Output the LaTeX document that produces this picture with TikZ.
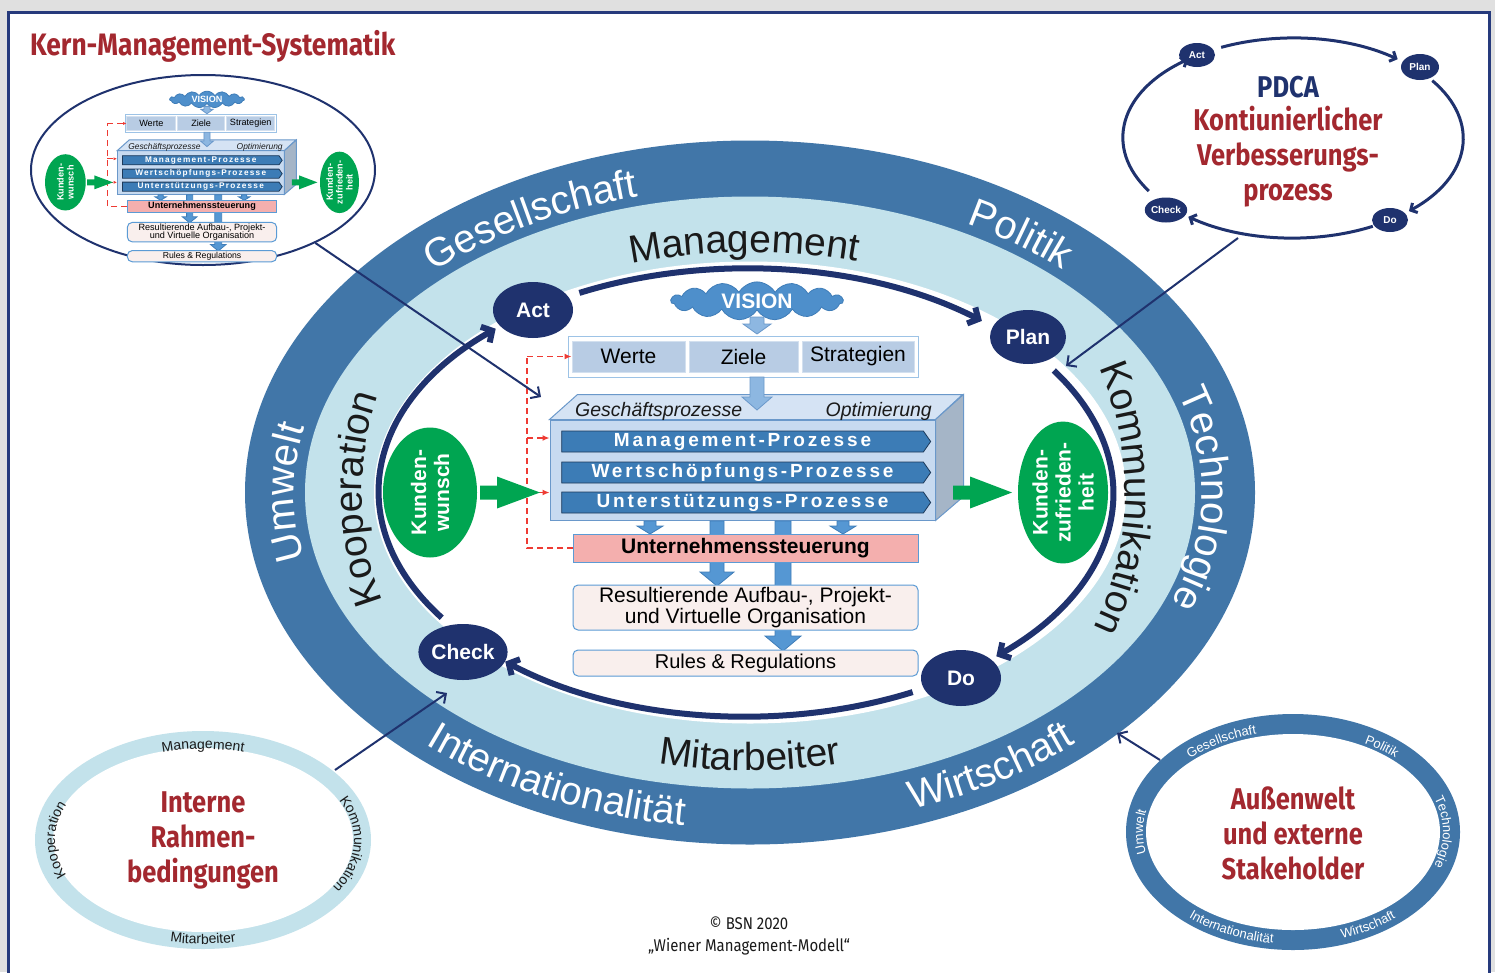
\documentclass[tikz,border=0pt]{standalone}
\usepackage{fontspec}
\setmainfont{Liberation Sans}
\newfontfamily\titlefont[FakeStretch=0.85]{Fira Sans}
\newfontfamily\capfont[FakeStretch=0.88]{Fira Sans}
\usetikzlibrary{shapes.geometric,shapes.symbols,decorations.text,arrows.meta}

\definecolor{navy}{HTML}{1F326E}
\definecolor{framenavy}{HTML}{263A7C}
\definecolor{ringdark}{HTML}{4176A8}
\definecolor{ringlight}{HTML}{C3E2EB}
\definecolor{redtxt}{HTML}{A3282F}
\definecolor{kgreen}{HTML}{00A551}
\definecolor{chev}{HTML}{3C7CB6}
\definecolor{chevline}{HTML}{1D3A5A}
\definecolor{pfront}{HTML}{C7DAF0}
\definecolor{ptop}{HTML}{D5E3F4}
\definecolor{pside}{HTML}{A5B5C7}
\definecolor{pline}{HTML}{6A98CA}
\definecolor{cell}{HTML}{B8CCE4}
\definecolor{cellline}{HTML}{D3E0EF}
\definecolor{pinkbox}{HTML}{F4AFAE}
\definecolor{lightpink}{HTML}{F9EFED}
\definecolor{barrow}{HTML}{5597D3}
\definecolor{barrowline}{HTML}{3F7DB8}
\definecolor{larrow}{HTML}{8DB7E1}
\definecolor{bline}{HTML}{5B9BD5}
\definecolor{reddash}{HTML}{EE3B33}
\definecolor{visionblue}{HTML}{4E8FCB}
\definecolor{visionline}{HTML}{3F7DB8}
\definecolor{darktext}{HTML}{1A1A1A}

\newcommand\fsz[2]{\fontsize{#1pt}{#2pt}\selectfont}
\newcommand\Sc{1}

% vertical block arrow: x, ytop, ybottom(tip), half shaft, half head, head length, style
\newcommand\varrow[7]{\draw[#7] ({#1-#4},#2) -- ({#1+#4},#2) -- ({#1+#4},{#3+#6}) -- ({#1+#5},{#3+#6}) -- (#1,#3) -- ({#1-#5},{#3+#6}) -- ({#1-#4},{#3+#6}) -- cycle;}
% horizontal block arrow: xleft, xright(tip), y, half shaft, half head, head length, style
\newcommand\harrow[7]{\draw[#7] (#1,{#3+#4}) -- ({#2-#6},{#3+#4}) -- ({#2-#6},{#3+#5}) -- (#2,#3) -- ({#2-#6},{#3-#5}) -- ({#2-#6},{#3-#4}) -- (#1,{#3-#4}) -- cycle;}
% text on an elliptical arc: centre, rx, ry, mid angle, signed half span, format, text
\newcommand\ringword[7]{\path[decorate,decoration={text along path,text align=center,text={|#6|#7}}] ([shift={({#4+#5}:#2pt and #3pt)}]#1) arc[start angle={#4+#5},end angle={#4-#5},x radius=#2pt,y radius=#3pt];}

\tikzset{
  lightarr/.style={fill=larrow, draw=pline, line width=0.8pt},
  bluearr/.style={fill=barrow, draw=barrowline, line width=0.8pt},
  greenarr/.style={fill=kgreen, draw=none},
  cellbox/.style={fill=cell, draw=cellline, line width=1pt, minimum height=31pt, inner sep=0pt, font=\fsz{21}{21}},
  chevron/.style={signal, signal to=east, signal pointer angle=110, fill=chev, draw=chevline, line width=0.8pt, minimum width=369pt, minimum height=21pt, inner sep=0pt, text=white, font=\fsz{19}{19}\bfseries\addfontfeatures{LetterSpace=15}},
  orgbox/.style={fill=lightpink, draw=bline, line width=1pt, rounded corners=5pt, minimum width=345pt, inner sep=0pt, align=center},
  feedback/.style={draw=reddash, line width=1.3pt, dash pattern=on 6pt off 4pt},
  fbarrow/.style={feedback, -{Latex[length=7pt,width=6pt,scale=\Sc]}},
  greenell/.style={ellipse, fill=kgreen, inner sep=0pt, text=white, align=center, rotate=90, font=\fsz{21}{23}\bfseries},
  pdcanode/.style={ellipse, fill=navy, inner sep=0pt, text=white, font=\fsz{21}{21}\bfseries},
  pdcaarc/.style={draw=navy, line width=6pt, -{Straight Barb[length=8pt,width=18pt]}},
  minipdcanode/.style={ellipse, fill=navy, inner sep=0pt, text=white, font=\fsz{10}{10}\bfseries},
  minipdcaarc/.style={draw=navy, line width=3pt, -{Straight Barb[length=5pt,width=11pt]}},
  link/.style={draw=navy, line width=2pt, -{Straight Barb[length=7pt,width=14pt]}},
  redtitle/.style={text=redtxt, font=\titlefont\bfseries\fsz{30}{35}, align=center, inner sep=0pt},
}

\newcommand\centerblock{%
  % VISION and values box
  \node[cloud, cloud puffs=15, cloud puff arc=120, aspect=7, fill=visionblue, draw=visionline, line width=0.8pt,
        minimum width=172pt, minimum height=28pt, inner sep=0pt, text=white, font=\fsz{21}{21}\bfseries] (vision) at (757,-301) {VISION};
  \varrow{757}{-317}{-334}{7}{14}{10}{lightarr}
  \node[draw=bline!60, fill=white, line width=1pt, minimum width=350pt, minimum height=41pt, inner sep=0pt] (wzs) at (743,-356.5) {};
  \node[cellbox, minimum width=113pt] (werte) at (628.5,-356.5) {Werte};
  \node[cellbox, minimum width=109pt] (ziele) at (743.5,-356.5) {Ziele};
  \node[cellbox, minimum width=112pt] (strat) at (858,-356.5) {Strategien};
  % prism
  \node[fill=pfront, draw=pline, line width=1pt, minimum width=385pt, minimum height=100pt, inner sep=0pt] (prism) at (742.5,-470) {};
  \draw[fill=ptop, draw=pline, line width=1pt] (prism.north west) -- ++(28,25) -- ++(385,0) -- (prism.north east) -- cycle;
  \draw[fill=pside, draw=pline, line width=1pt] (prism.north east) -- ++(28,25) -- ++(0,-102) -- (prism.south east) -- cycle;
  \varrow{757}{-377}{-410}{7}{15}{13}{lightarr}
  \node[anchor=base west, inner sep=0pt, font=\fsz{19.5}{19.5}\itshape, text=darktext] (gp) at (575,-416) {Geschäftsprozesse};
  \node[anchor=base east, inner sep=0pt, font=\fsz{19.5}{19.5}\itshape, text=darktext] (opt) at (932,-416) {Optimierung};
  \node[chevron] (mp) at (742.5,-441.5) {Management-Prozesse};
  \node[chevron] (wp) at (742.5,-472.5) {Wertschöpfungs-Prozesse};
  \node[chevron] (up) at (742.5,-502.5) {Unterstützungs-Prozesse};
  % downward arrows
  \varrow{650}{-521}{-534}{6}{13}{8}{bluearr}
  \varrow{843}{-521}{-534}{6}{13}{8}{bluearr}
  \varrow{717}{-521}{-586}{7}{17}{14}{bluearr}
  \varrow{783}{-521}{-651}{8}{18}{15}{bluearr}
  % organisation boxes
  \node[fill=pinkbox, draw=bline, line width=1pt, minimum width=345pt, minimum height=28pt, inner sep=0pt, font=\fsz{21}{21}\bfseries] (ust) at (745.5,-548) {Unternehmenssteuerung};
  \node[orgbox, minimum height=45pt, font=\fsz{21}{19}] (res) at (745.5,-607.5) {Resultierende Aufbau-, Projekt-\\und Virtuelle Organisation};
  \node[orgbox, minimum height=26pt, font=\fsz{20}{20}] (rules) at (745.5,-663) {Rules \& Regulations};
  % feedback loop
  \coordinate (fbb) at (527,-548);
  \coordinate (fbt) at (527,-356.5);
  \draw[feedback] (ust.west) -- (fbb) -- (fbt);
  \draw[fbarrow] (fbt) -- (werte.west);
  \draw[fbarrow] (fbb |- 0,-438) -- (prism.west |- 0,-438);
  \draw[fbarrow] (fbb |- 0,-492.5) -- (prism.west |- 0,-492.5);
  % customer
  \node[greenell, minimum width=130pt, minimum height=94pt] (kw) at (430,-492.5) {Kunden-\\wunsch};
  \node[greenell, minimum width=130pt, minimum height=90pt] (kz) at (1063,-492.5) {Kunden-\\zufrieden-\\heit};
  \harrow{480}{540}{-492.5}{7}{16}{43}{greenarr}
  \harrow{953}{1012}{-492.5}{7}{16}{42}{greenarr}
}

\begin{document}
\begin{tikzpicture}[x=1pt,y=1pt]
\useasboundingbox (0,0) rectangle (1495,-972);
\fill[black!12] (0,0) rectangle (1495,-972);
\fill[white] (8,-12) rectangle (1489,-990);
\draw[framenavy, line width=3pt] (8,-12) rectangle (1489,-990);

% main rings
\coordinate (ctr) at (750,-492.5);
\fill[ringdark] (ctr) ellipse[x radius=505pt, y radius=352pt];
\fill[ringlight] (ctr) ellipse[x radius=445pt, y radius=296pt];
\fill[white] (ctr) ellipse[x radius=376pt, y radius=231pt];

\newcommand\darkfmt{\fsz{40}{40}\color{white}}
\newcommand\lightfmt{\fsz{39}{39}\color{darktext}}
\ringword{ctr}{458}{305}{122}{40}{\darkfmt}{Gesellschaft}
\ringword{ctr}{458}{305}{52}{30}{\darkfmt}{Politik}
\ringword{ctr}{452}{305}{-1}{45}{\darkfmt}{Technologie}
\ringword{ctr}{456}{305}{180}{45}{\darkfmt}{Umwelt}
\ringword{ctr}{490}{336}{-57}{-35}{\darkfmt}{Wirtschaft}
\ringword{ctr}{490}{336}{-117}{-40}{\darkfmt}{Internationalität}
\ringword{ctr}{390}{240}{91}{40}{\lightfmt}{Management}
\ringword{ctr}{375}{340}{-1}{40}{\lightfmt}{Kommunikation}
\ringword{ctr}{388}{340}{181}{40}{\lightfmt}{Kooperation}
\ringword{ctr}{400}{278}{-90}{-35}{\lightfmt}{Mitarbeiter}

% PDCA cycle
\coordinate (pc) at (746,-492.5);
\draw[pdcaarc] ([shift={(117:367pt and 224pt)}]pc) arc[start angle=117, end angle=50, x radius=367pt, y radius=224pt];
\draw[pdcaarc] ([shift={(33:367pt and 224pt)}]pc) arc[start angle=33, end angle=-47, x radius=367pt, y radius=224pt];
\draw[pdcaarc] ([shift={(-63:367pt and 224pt)}]pc) arc[start angle=-63, end angle=-131, x radius=367pt, y radius=224pt];
\draw[pdcaarc] ([shift={(214:367pt and 224pt)}]pc) arc[start angle=214, end angle=133, x radius=367pt, y radius=224pt];
\node[pdcanode, minimum width=80pt, minimum height=56pt] (act) at (533,-310) {Act};
\node[pdcanode, minimum width=76pt, minimum height=54pt] (plan) at (1028,-337) {Plan};
\node[pdcanode, minimum width=80pt, minimum height=56pt] (do) at (961,-678) {Do};
\node[pdcanode, minimum width=82pt, minimum height=56pt] (check) at (463,-652) {Check};

% central model
\centerblock

% title
\node[redtitle, font=\titlefont\bfseries\fsz{31}{31}, anchor=base west] (title) at (30,-55) {Kern-Management-Systematik};

% top-left inset with miniature model
\node[ellipse, draw=navy, line width=2pt, minimum width=344pt, minimum height=190pt, inner sep=0pt] (tlin) at (203,-170) {};
\begin{scope}[shift={(-120.8,30.9)}, scale=0.433, transform shape, name prefix=mini-]
  \renewcommand\Sc{0.5}
  \centerblock
\end{scope}

% top-right PDCA inset
\coordinate (pctr) at (1293,-138);
\draw[minipdcaarc] ([shift={(115:170pt and 100pt)}]pctr) arc[start angle=115, end angle=52, x radius=170pt, y radius=100pt];
\draw[minipdcaarc] ([shift={(35:170pt and 100pt)}]pctr) arc[start angle=35, end angle=-47, x radius=170pt, y radius=100pt];
\draw[minipdcaarc] ([shift={(-62:170pt and 100pt)}]pctr) arc[start angle=-62, end angle=-128, x radius=170pt, y radius=100pt];
\draw[minipdcaarc] ([shift={(212:170pt and 100pt)}]pctr) arc[start angle=212, end angle=128, x radius=170pt, y radius=100pt];
\node[minipdcanode, minimum width=36pt, minimum height=24pt] (act2) at (1197,-55) {Act};
\node[minipdcanode, minimum width=38pt, minimum height=26pt] (plan2) at (1420,-67) {Plan};
\node[minipdcanode, minimum width=36pt, minimum height=24pt] (do2) at (1390,-220) {Do};
\node[minipdcanode, minimum width=38pt, minimum height=25pt] (check2) at (1166,-210) {Check};
\node[redtitle, text=navy] (pdcalabel) at (1288,-87) {PDCA};
\node[redtitle] (kvp) at (1288,-157) {Kontiunierlicher\\Verbesserungs-\\prozess};

% bottom-left inset
\coordinate (blc) at (203,-840);
\fill[ringlight] (blc) ellipse[x radius=168pt, y radius=109pt];
\fill[white] (blc) ellipse[x radius=150pt, y radius=92pt];
\newcommand\blfmt{\fsz{14}{14}\color{darktext}}
\ringword{blc}{149}{91}{90}{50}{\blfmt}{Management}
\ringword{blc}{151}{92}{-2}{60}{\blfmt}{Kommunikation}
\ringword{blc}{148}{91}{180}{60}{\blfmt}{Kooperation}
\ringword{blc}{160}{104}{-90}{-50}{\blfmt}{Mitarbeiter}
\node[redtitle] (irb) at (203,-840) {Interne\\Rahmen-\\bedingungen};

% bottom-right inset
\coordinate (brc) at (1293,-832);
\fill[ringdark] (brc) ellipse[x radius=167pt, y radius=118pt];
\fill[white] (brc) ellipse[x radius=147pt, y radius=98pt];
\newcommand\brfmt{\fsz{13}{13}\color{white}}
\ringword{brc}{150}{101}{121}{35}{\brfmt}{Gesellschaft}
\ringword{brc}{150}{101}{52}{30}{\brfmt}{Politik}
\ringword{brc}{150}{101}{0}{55}{\brfmt}{Technologie}
\ringword{brc}{150}{101}{180}{50}{\brfmt}{Umwelt}
\ringword{brc}{161}{112}{-59}{-35}{\brfmt}{Wirtschaft}
\ringword{brc}{161}{112}{-116}{-40}{\brfmt}{Internationalität}
\node[redtitle] (aws) at (1293,-833) {Außenwelt\\und externe\\Stakeholder};

% links from insets to the model
\coordinate (tlend) at (541,-397);
\draw[link] (tlin.-33) -- (tlend);
\coordinate (trstart) at (1238,-238);
\coordinate (trend) at (1066,-366);
\draw[link] (trstart) -- (trend);
\coordinate (blstart) at (335,-770);
\coordinate (blend) at (447,-693);
\draw[link] (blstart) -- (blend);
\coordinate (brstart) at (1160,-760);
\coordinate (brend) at (1117,-733);
\draw[link] (brstart) -- (brend);

% caption
\node[font=\capfont\fsz{17}{22}, align=center, inner sep=0pt, text=darktext] (cap) at (749,-936) {© BSN 2020\\„Wiener Management-Modell“};
\end{tikzpicture}
\end{document}
